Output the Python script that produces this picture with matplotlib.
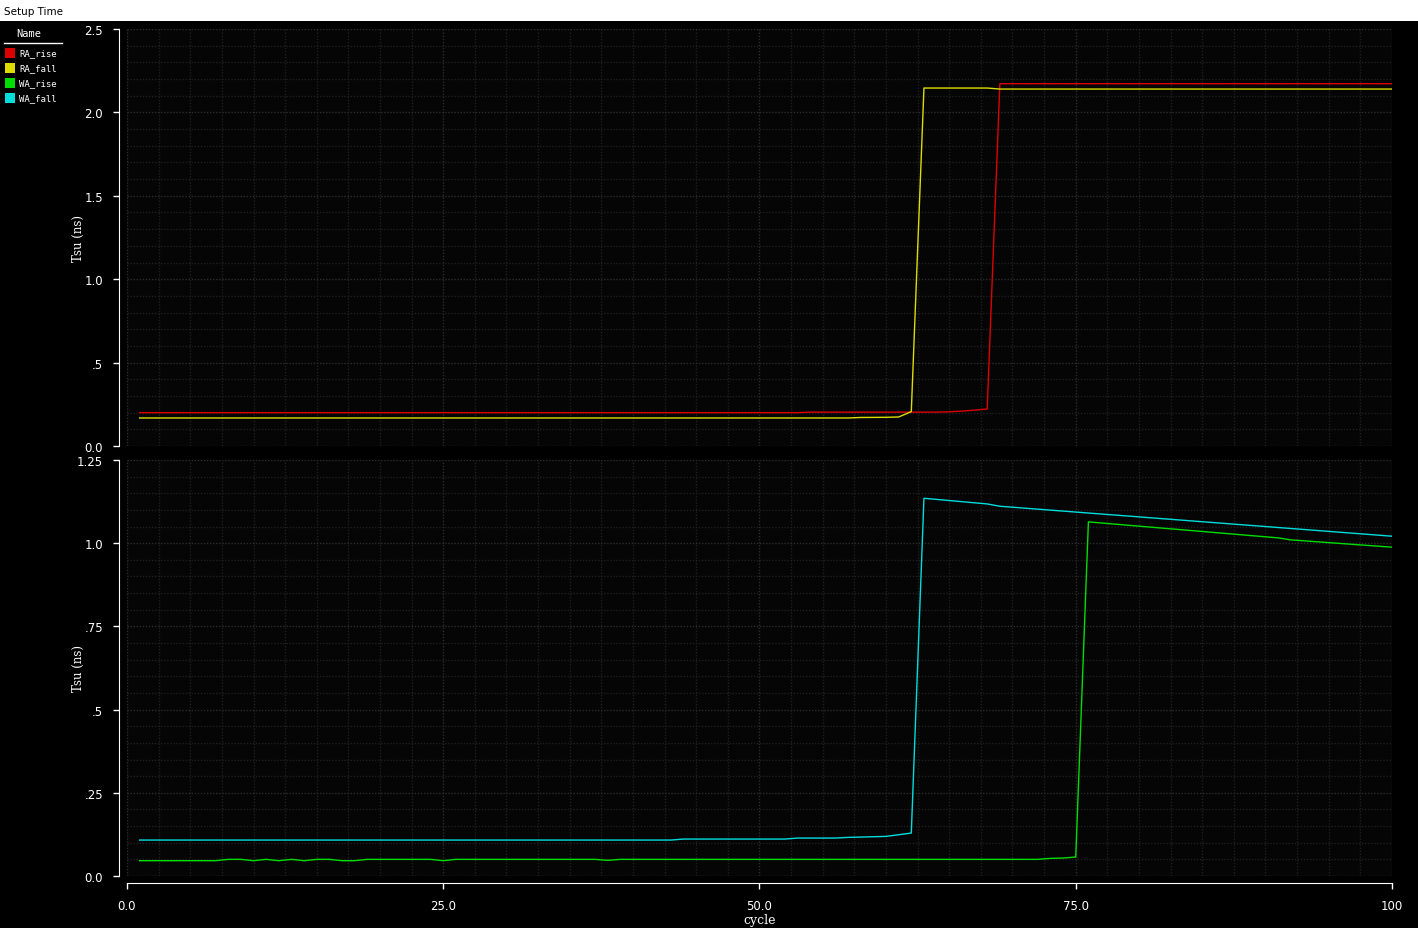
import matplotlib
matplotlib.use("Agg")
import matplotlib.pyplot as plt
from matplotlib.patches import Rectangle
from matplotlib.ticker import MultipleLocator, FuncFormatter

# breakpoints of each trace (cycle, Tsu in ns)
ra_rise_x = [1, 53, 54, 64, 65, 66, 67, 68, 69, 100]
ra_rise_y = [0.200, 0.200, 0.203, 0.203, 0.205, 0.209, 0.215, 0.222, 2.172, 2.172]

ra_fall_x = [1, 57, 58, 60, 61, 62, 63, 68, 69, 100]
ra_fall_y = [0.168, 0.168, 0.171, 0.172, 0.174, 0.206, 2.146, 2.146, 2.140, 2.140]

wa_rise_x = [1, 7, 8, 9, 10, 11, 12, 13, 14, 15, 16, 17, 18, 19, 24, 25, 26,
             37, 38, 39, 72, 73, 74, 75, 76, 91, 92, 100]
wa_rise_y = [0.046, 0.046, 0.050, 0.050, 0.046, 0.050, 0.046, 0.050, 0.046,
             0.050, 0.050, 0.046, 0.046, 0.050, 0.050, 0.046, 0.050,
             0.050, 0.047, 0.050, 0.050, 0.053, 0.054, 0.057, 1.064, 1.016,
             1.010, 0.988]

wa_fall_x = [1, 43, 44, 52, 53, 56, 57, 59, 60, 61, 62, 63, 68, 69, 100]
wa_fall_y = [0.108, 0.108, 0.111, 0.111, 0.114, 0.114, 0.116, 0.118, 0.119,
             0.124, 0.129, 1.135, 1.118, 1.111, 1.021]

names = ["RA_rise", "RA_fall", "WA_rise", "WA_fall"]
colors = ["#dd0000", "#dddd00", "#00dd00", "#00dddd"]

x_labels = {0: "0.0", 25: "25.0", 50: "50.0", 75: "75.0", 100: "100"}
top_labels = {0: "0.0", 0.5: ".5", 1.0: "1.0", 1.5: "1.5", 2.0: "2.0", 2.5: "2.5"}
bot_labels = {0: "0.0", 0.25: ".25", 0.5: ".5", 0.75: ".75", 1.0: "1.0", 1.25: "1.25"}

W, H = 1418, 929
fig = plt.figure(figsize=(W / 100, H / 100), dpi=100, facecolor="black")


def px_axes(left, top, right, bottom):
    return fig.add_axes([left / W, 1 - bottom / H, (right - left) / W, (bottom - top) / H])


def style(ax, ymax, ymajor, yminor, labels):
    ax.set_facecolor("#050505")
    ax.set_xlim(0, 100)
    ax.set_ylim(0, ymax)
    for s in ["top", "right"]:
        ax.spines[s].set_visible(False)
    ax.spines["left"].set_position(("outward", 5.8))
    ax.spines["left"].set_color("white")
    ax.spines["bottom"].set_position(("outward", 5.0))
    ax.spines["bottom"].set_color("white")
    ax.xaxis.set_major_locator(MultipleLocator(25))
    ax.xaxis.set_minor_locator(MultipleLocator(2.5))
    ax.yaxis.set_major_locator(MultipleLocator(ymajor))
    ax.yaxis.set_minor_locator(MultipleLocator(yminor))
    ax.yaxis.set_major_formatter(FuncFormatter(
        lambda v, p: labels.get(round(v, 3), "")))
    ax.tick_params(colors="white", labelcolor="white", labelsize=8.5)
    ax.tick_params(axis="y", which="major", length=4.5, width=1, pad=7)
    ax.tick_params(axis="y", which="minor", length=3.8, width=1)
    ax.tick_params(axis="x", which="major", length=4.5, width=1, pad=7)
    ax.tick_params(axis="x", which="minor", length=3, width=1)
    ax.grid(True, which="major", color="#2c2c2c", linestyle=(0, (1, 1.2)), linewidth=1)
    ax.grid(True, which="minor", color="#1f1f1f", linestyle=(0, (1, 1.2)), linewidth=1)
    ax.set_axisbelow(True)
    ax.set_ylabel("Tsu (ns)", color="white", family="DejaVu Serif", fontsize=8.5)
    ax.yaxis.set_label_coords(-0.033, 0.5)


ax1 = px_axes(127, 30, 1392, 447)
ax2 = px_axes(127, 461, 1392, 877)

style(ax1, 2.5, 0.5, 0.1, top_labels)
style(ax2, 1.25, 0.25, 0.05, bot_labels)

ax1.spines["bottom"].set_visible(False)
ax1.tick_params(axis="x", which="both", bottom=False, labelbottom=False)

ax2.xaxis.set_major_formatter(FuncFormatter(lambda v, p: x_labels.get(int(round(v)), "")))
ax2.set_xlabel("cycle", color="white", family="DejaVu Serif", fontsize=9)
ax2.xaxis.set_label_coords(0.5, -0.09)

ax1.plot(ra_rise_x, ra_rise_y, color=colors[0], linewidth=1.0)
ax1.plot(ra_fall_x, ra_fall_y, color=colors[1], linewidth=1.0)
ax2.plot(wa_rise_x, wa_rise_y, color=colors[2], linewidth=1.0)
ax2.plot(wa_fall_x, wa_fall_y, color=colors[3], linewidth=1.0)

# title bar
fig.add_artist(Rectangle((0, 1 - 22 / H), 1, 22 / H, transform=fig.transFigure,
                         facecolor="white", edgecolor="none"))
fig.text(4 / W, 1 - 12 / H, "Setup Time", color="black", fontsize=7.5, va="center")

# legend panel
fig.text(29 / W, 1 - 34 / H, "Name", color="white", fontsize=7.5,
         family="DejaVu Sans Mono", ha="center", va="center")
fig.add_artist(plt.Line2D([4 / W, 62 / W], [1 - 44 / H, 1 - 44 / H],
                          transform=fig.transFigure, color="white", linewidth=1))
for i, (n, c) in enumerate(zip(names, colors)):
    yc = 54 + 15 * i
    fig.add_artist(Rectangle((5 / W, 1 - (yc + 5) / H), 10 / W, 10 / H,
                             transform=fig.transFigure, facecolor=c, edgecolor="none"))
    fig.text(19 / W, 1 - yc / H, n, color="white", fontsize=6.5,
             family="DejaVu Sans Mono", va="center")

fig.savefig("out.png", dpi=100, facecolor="black")
